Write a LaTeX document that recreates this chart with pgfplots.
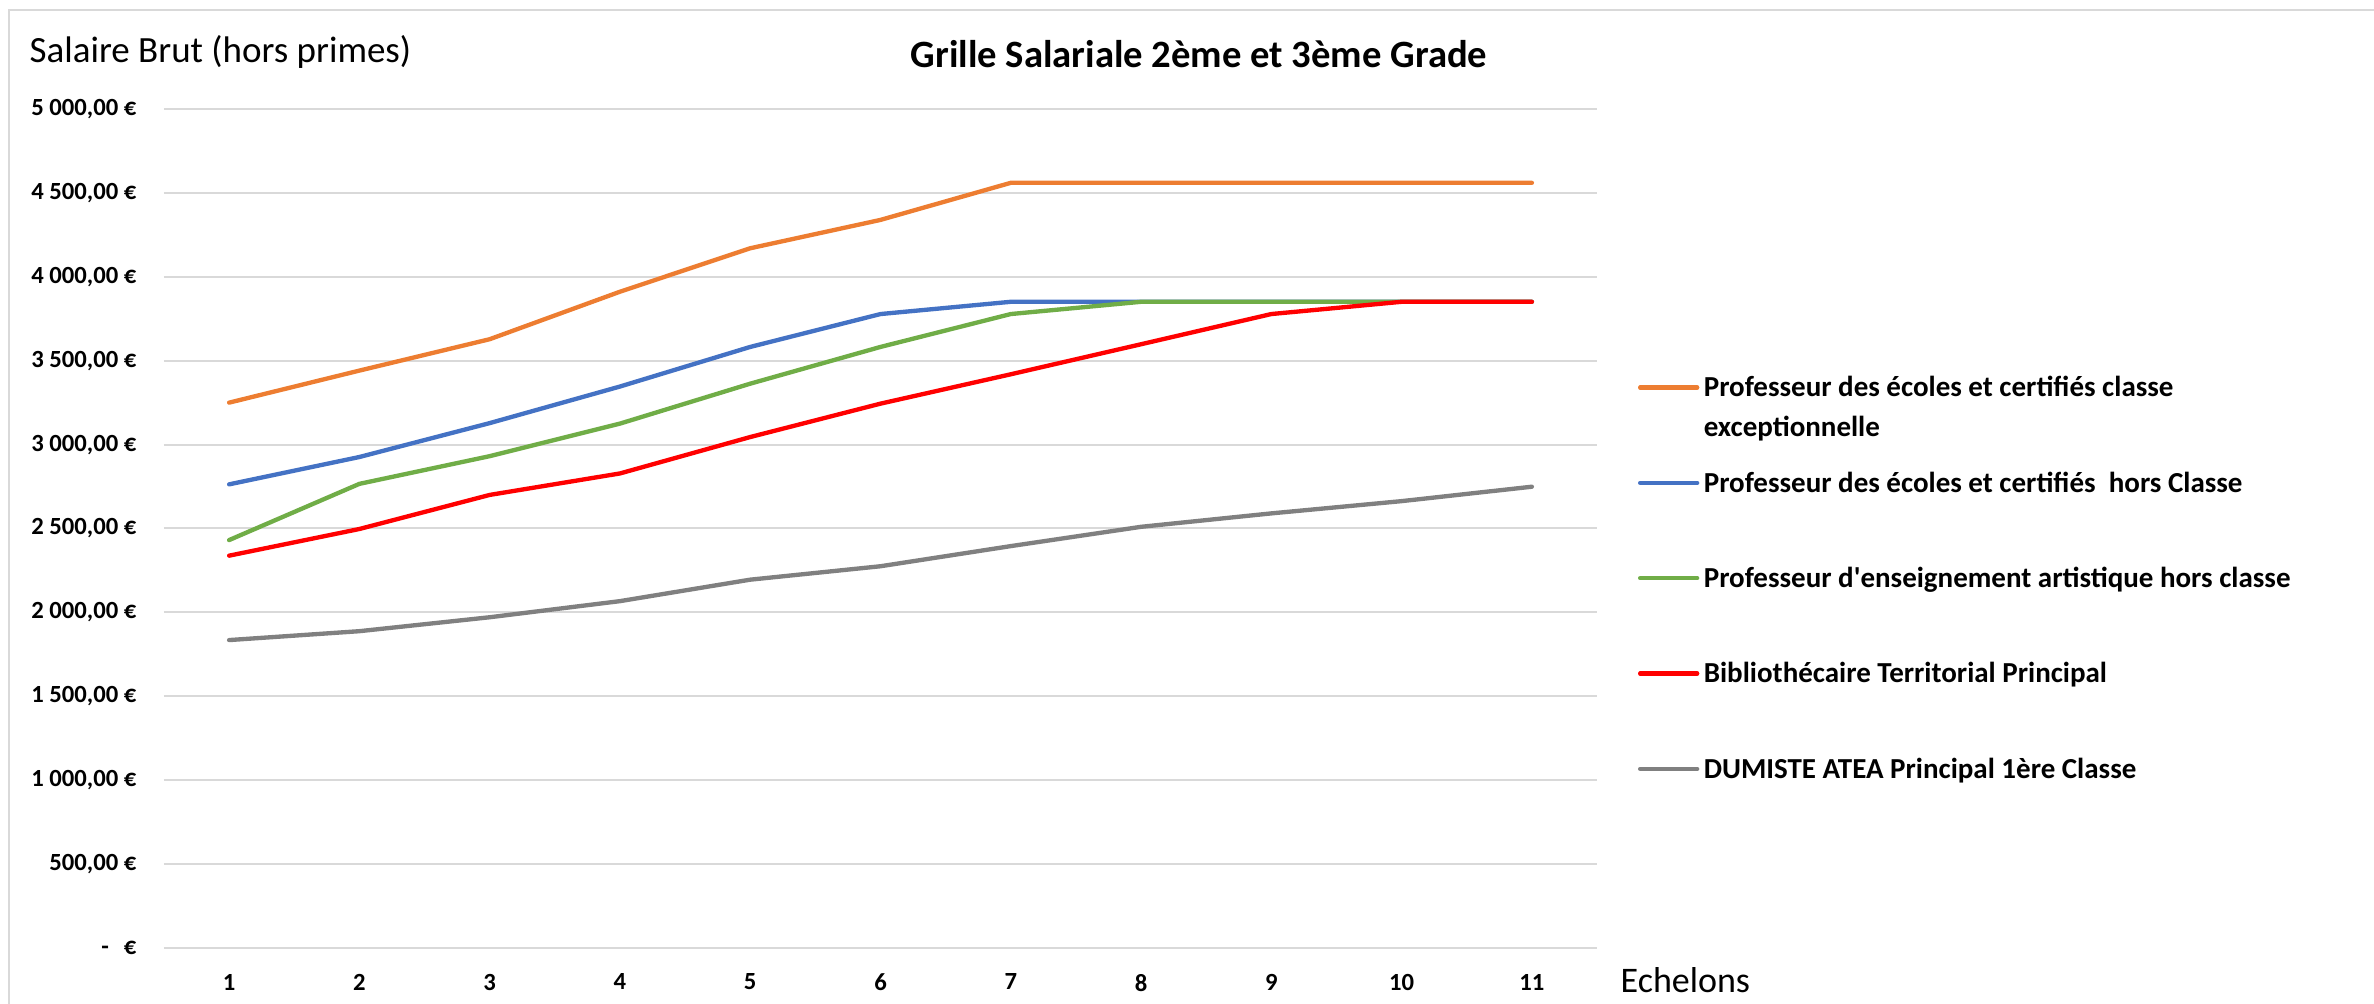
\documentclass[border=0pt]{standalone}
\usepackage{pgfplots}
\pgfplotsset{compat=1.18}
\usepackage{fontspec}
\setmainfont{Carlito}
\definecolor{cOrange}{HTML}{ED7D31}
\definecolor{cBlue}{HTML}{4472C4}
\definecolor{cGreen}{HTML}{70AD47}
\definecolor{cRed}{HTML}{FF0000}
\definecolor{cGray}{HTML}{808080}
\definecolor{cGrid}{HTML}{D9D9D9}
\begin{document}
\begin{tikzpicture}
\useasboundingbox (0,0) rectangle (712.2pt,301.2pt);
\draw[cGrid, line width=0.6pt] (2.6pt,0) -- (2.6pt,298.2pt) -- (712.2pt,298.2pt);
\begin{axis}[
  at={(49.2pt,16.8pt)}, anchor=south west,
  scale only axis, width=429.9pt, height=251.7pt,
  xmin=0.5, xmax=11.5, ymin=0, ymax=5000,
  xtick={1,...,11},
  ytick={0,500,...,5000},
  yticklabels={{-\hspace{0.6em}€},{500,00~€},{1~000,00~€},{1~500,00~€},{2~000,00~€},{2~500,00~€},{3~000,00~€},{3~500,00~€},{4~000,00~€},{4~500,00~€},{5~000,00~€}},
  axis line style={draw=none},
  tick style={draw=none},
  ymajorgrids, grid style={cGrid, line width=0.6pt},
  yticklabel style={font=\fontsize{7.4}{8}\selectfont\bfseries, inner sep=0pt, anchor=east},
  yticklabel shift=8.1pt,
  xticklabel style={font=\fontsize{7.4}{8}\selectfont\bfseries, inner sep=0pt, anchor=north},
  xticklabel shift=7.6pt,
  /pgf/number format/assume math mode=true,
  title={Grille Salariale 2ème et 3ème Grade},
  every axis title/.style={at={(0.7223,1.04887)}, anchor=base, font=\fontsize{11.6}{13}\selectfont\bfseries, inner sep=0pt},
  xlabel={Echelons},
  every axis x label/.style={at={(1.01605,-0.05364)}, anchor=base west, font=\fontsize{10.8}{12}\selectfont, inner sep=0pt},
  ylabel={Salaire Brut (hors primes)},
  every axis y label/.style={at={(-0.09421,1.05483)}, anchor=base west, font=\fontsize{11.1}{13}\selectfont, inner sep=0pt},
  legend image code/.code={\draw[#1, line cap=round] (0pt,0pt) -- (17.1pt,0pt);},
  legend style={at={(1.02861,0.69082)}, anchor=north west, draw=none, fill=none,
    inner sep=0pt, outer sep=0pt, row sep=17.1pt, column sep=1.35pt,
    font=\fontsize{8.7}{10}\selectfont\bfseries,
    nodes={inner sep=0pt, text height=8.5pt, text depth=3pt}},
  legend cell align=left,
  every axis plot/.append style={line width=1.3pt, line join=round, line cap=round},
  clip=false,
]
\addplot[cOrange] coordinates {(1,3250) (2,3441) (3,3628) (4,3911) (5,4170) (6,4339) (7,4560) (8,4560) (9,4560) (10,4560) (11,4560)};
\addlegendentry{\vtop{\baselineskip=11.8pt\hbox{Professeur des écoles et certifiés classe}\hbox{exceptionnelle}}}
\addplot[cBlue] coordinates {(1,2763) (2,2926) (3,3128) (4,3346) (5,3582) (6,3778) (7,3851) (8,3851) (9,3851) (10,3851) (11,3851)};
\addlegendentry{Professeur des écoles et certifiés\ \ hors Classe}
\addplot[cGreen] coordinates {(1,2431) (2,2766) (3,2931) (4,3125) (5,3363) (6,3582) (7,3778) (8,3851) (9,3851) (10,3851) (11,3851)};
\addlegendentry{Professeur d\textquotesingle enseignement artistique hors classe}
\addplot[cRed] coordinates {(1,2338) (2,2497) (3,2700) (4,2828) (5,3045) (6,3244) (7,3419) (8,3598) (9,3778) (10,3851) (11,3851)};
\addlegendentry{Bibliothécaire Territorial Principal}
\addplot[cGray] coordinates {(1,1835) (2,1888) (3,1971) (4,2067) (5,2195) (6,2275) (7,2395) (8,2510) (9,2590) (10,2663) (11,2749)};
\addlegendentry{DUMISTE ATEA Principal 1ère Classe}
\end{axis}
\end{tikzpicture}
\end{document}
